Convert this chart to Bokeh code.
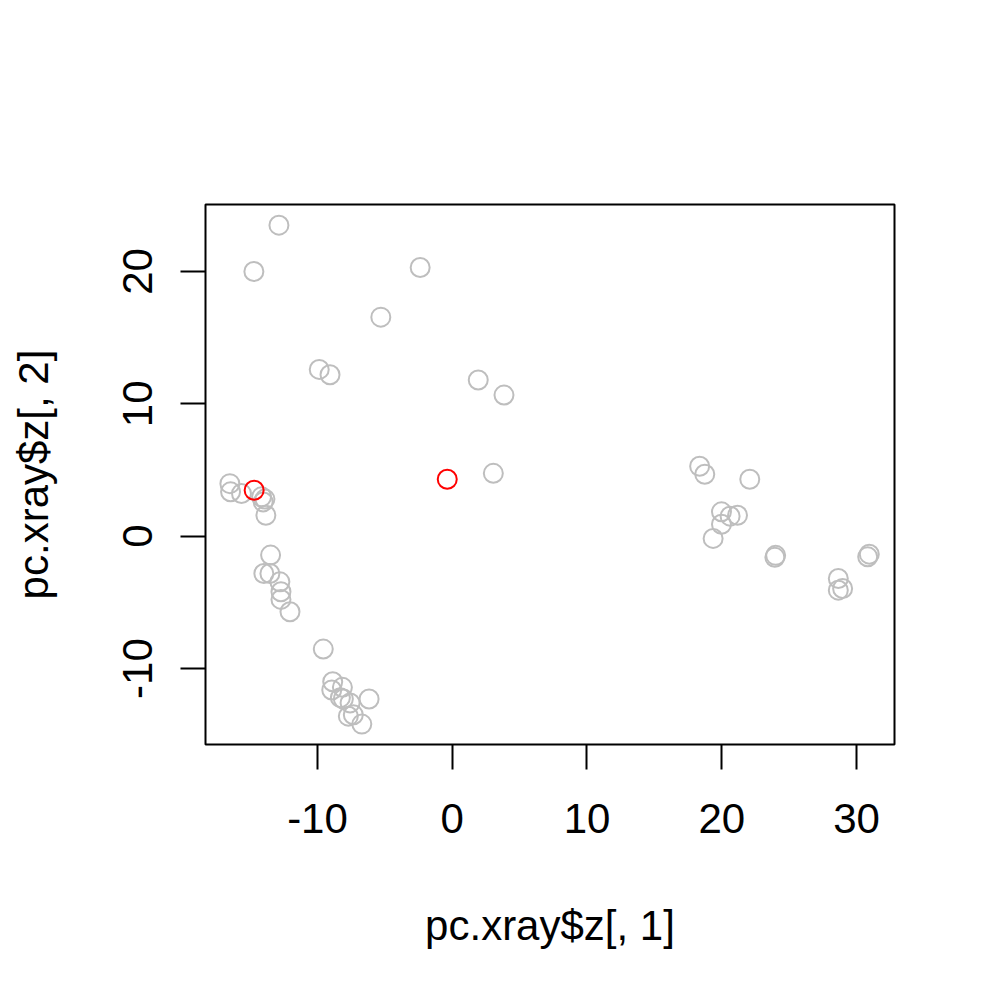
from bokeh.plotting import figure
from bokeh.models import Range1d, FixedTicker
from bokeh.embed import file_html
from bokeh.resources import INLINE

# grey points (PC1, PC2)
grey_x = [-12.86, -14.72, -2.38, -5.30, -9.87, -9.07, 1.93, 3.84, 3.05,
          -16.5, -16.45, -15.64, -14.15, -14.03, -13.9, -13.83, -13.48, -13.98, -13.53,
          -12.79, -12.71, -12.71, -12.04,
          -9.57, -8.87, -8.94, -8.15, -8.08, -8.3, -7.58, -6.17, -7.71, -7.34, -6.71,
          18.36, 18.74, 22.08, 19.98, 20.62, 21.17, 19.98, 19.36, 24.0, 23.94,
          30.95, 30.83, 28.65, 28.65, 28.97]
grey_y = [23.5, 20.0, 20.3, 16.55, 12.6, 12.2, 11.8, 10.66, 4.75,
          3.97, 3.35, 3.22, 2.97, 2.59, 2.8, 1.58, -1.43, -2.82, -2.82,
          -3.45, -4.2, -4.78, -5.71,
          -8.53, -11.0, -11.62, -11.42, -12.3, -12.2, -12.6, -12.3, -13.6, -13.5, -14.2,
          5.28, 4.68, 4.3, 1.84, 1.51, 1.58, 0.9, -0.17, -1.45, -1.6,
          -1.36, -1.56, -3.2, -4.08, -3.95]
red_x = [-0.37, -14.7]
red_y = [4.3, 3.47]

x_ticks = [-10, 0, 10, 20, 30]
y_ticks = [-10, 0, 10, 20]

p = figure(width=1000, height=1000, output_backend="svg", toolbar_location=None,
           x_range=Range1d(-18.31, 32.82), y_range=Range1d(-15.74, 25.06),
           min_border_left=205, min_border_right=106, min_border_top=204, min_border_bottom=256)
p.grid.visible = False
p.outline_line_color = "black"
p.outline_line_width = 2
p.background_fill_color = "white"
p.border_fill_color = "white"

p.scatter(grey_x, grey_y, size=19, fill_color=None, line_color="#BEBEBE", line_width=2)
p.scatter(red_x, red_y, size=19, fill_color=None, line_color="#FF0000", line_width=2)

for ax, ticks, lab in ((p.xaxis[0], x_ticks, "pc.xray$z[, 1]"), (p.yaxis[0], y_ticks, "pc.xray$z[, 2]")):
    ax.ticker = FixedTicker(ticks=ticks)
    ax.major_label_overrides = {t: str(t) for t in ticks}
    ax.minor_tick_line_color = None
    ax.axis_line_color = None
    ax.major_tick_line_color = "black"
    ax.major_tick_line_width = 2
    ax.major_tick_out = 25
    ax.major_tick_in = 0
    ax.major_label_text_font = "Liberation Sans"
    ax.major_label_text_font_size = "42px"
    ax.major_label_text_color = "black"
    ax.axis_label = lab
    ax.axis_label_text_font = "Liberation Sans"
    ax.axis_label_text_font_size = "42px"
    ax.axis_label_text_font_style = "normal"
    ax.axis_label_text_color = "black"

p.xaxis[0].major_label_standoff = 34
p.xaxis[0].axis_label_standoff = 66
p.yaxis[0].major_label_orientation = "vertical"
p.yaxis[0].major_label_standoff = 28
p.yaxis[0].axis_label_standoff = 64

open("out.html", "w").write(file_html(p, INLINE))
